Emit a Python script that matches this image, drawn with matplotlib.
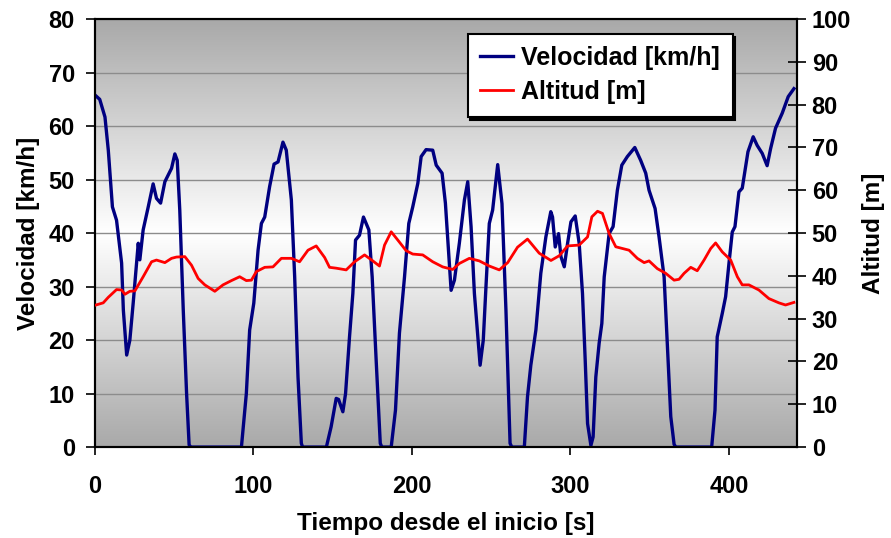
import numpy as np
import matplotlib
matplotlib.use("Agg")
import matplotlib.pyplot as plt
from matplotlib.colors import LinearSegmentedColormap
from matplotlib.font_manager import FontProperties

# Velocity trace (s, km/h)
tiempo_vel = [0, 3, 6.3, 8.4, 11, 13.6, 16.8, 17.9, 20, 22, 24.1, 26.2, 27.3, 28.3, 29.4,
              30.4, 33.6, 36.7, 38.8, 41.4, 44.1, 48.3, 50.4, 51.9, 53.5, 55.7, 57.8, 59.4,
              60.5, 92.4, 95.5, 97.6, 100.2, 102.9, 105, 107.1, 110.2, 113, 115.5, 118.6,
              120.7, 123.9, 126, 128.1, 130.2, 131, 146, 149, 152.2, 153.7, 156.4, 158.1,
              160.6, 162.7, 164.4, 166.9, 169.4, 172.8, 174.9, 177.4, 180, 181, 186.9,
              189.6, 192.1, 195.3, 198, 200.5, 203.7, 205.8, 208.9, 213.1, 215.3, 219,
              221.1, 223.6, 224.7, 226.8, 229.9, 233.1, 235.2, 237.3, 239.4, 243, 245,
              246.8, 248.8, 250.9, 254.1, 256.8, 259.3, 261.9, 263, 270.9, 272.9, 275,
              278.2, 281.3, 284.5, 287.6, 288.7, 290.4, 292.5, 294, 296.1, 298.2, 300.3,
              303, 305.5, 307.6, 309.3, 310.8, 312.9, 314.3, 316, 318.1, 319.8, 321.3,
              324.4, 326.9, 329.6, 332.4, 335.9, 340.6, 344.3, 347.5, 349.6, 353.4, 355.9,
              359.1, 361.1, 363.3, 365.4, 366.5, 389.1, 391.2, 392.6, 395.8, 397.9, 400,
              402.1, 403.8, 406.3, 408.4, 412, 415.3, 417.8, 421, 424.1, 426.3, 429.4,
              433.6, 437.4, 441]
velocidad = [65.8, 65, 61.7, 55.5, 44.9, 42.4, 34.4, 25.6, 17.2, 20, 26.9, 34.4, 38.1, 35, 38,
             40.6, 44.9, 49.2, 46.5, 45.6, 49.6, 52.1, 54.8, 53.6, 44.3, 25.6, 10, 0.4,
             0, 0, 10, 21.9, 26.9, 36.8, 41.8, 43, 48.7, 52.9, 53.3, 57,
             55.5, 46.2, 31.8, 13.1, 0.7, 0, 0, 3.8, 9.1, 8.9, 6.6, 10,
             20.6, 28.7, 38.7, 39.6, 43, 40.6, 31.8, 16.3, 0.7, 0, 0,
             6.9, 21.3, 31.8, 41.8, 44.9, 49.3, 54.3, 55.6, 55.5, 52.7, 51.2,
             45.6, 34.4, 29.3, 31.2, 38.1, 46.2, 49.6, 41.2, 28.7, 15.3, 20,
             30.6, 41.8, 44.3, 52.8, 45.5, 25.6, 0.7, 0, 0, 9.4, 15.3,
             21.9, 32.5, 39.3, 44, 43, 37.4, 39.9, 35.6, 33.7, 38.1, 42.1,
             43.2, 38.1, 28.7, 16.3, 4.4, 0.3, 1.9, 13.1, 19.4, 23.1, 31.8,
             39.9, 41.2, 48, 52.7, 54.3, 56, 53.6, 51.2, 48, 44.6, 39.3,
             31.8, 19.4, 5.7, 0.5, 0, 0, 6.9, 20.6, 25, 28.1, 34.3,
             40.2, 41.2, 47.7, 48.4, 55.2, 58, 56.4, 54.9, 52.6, 55.8, 59.6,
             62.4, 65.5, 67]

# Altitude trace (s, m)
tiempo_alt = [0.6, 5.2, 8.4, 13.6, 16.8, 18.9, 22, 25.2, 30.4, 35.7, 38.8, 44.1, 48.3, 51.4,
              56.7, 60.9, 65.1, 69.3, 75.6, 80.8, 86.1, 91.3, 95.5, 98.7, 101.8, 107.1,
              112.3, 117.6, 123.9, 129.1, 134.4, 139.6, 144.9, 148, 152.2, 158.5, 163.8,
              170.1, 175.3, 179.5, 182.7, 186.9, 191, 196.3, 200.5, 206.8, 213.1, 219.4,
              225.7, 229.9, 236.2, 242.5, 248.8, 255.1, 260.4, 266.6, 272.9, 280.3, 287.7,
              292.9, 298.2, 305.5, 310.8, 313.5, 317.1, 320.2, 324.4, 328.6, 337, 342.2,
              346.5, 349.6, 354.8, 360.1, 365.4, 368.5, 371.7, 375.9, 380, 384.3, 388.5,
              391.6, 395.8, 401.1, 405.3, 408.4, 412.6, 418.9, 425.2, 431.5, 435.7, 441]
altitud = [33.2, 33.7, 35, 36.8, 36.7, 35.7, 36.4, 36.5, 39.8, 43.3, 43.7, 43.1, 44.1, 44.4,
           44.5, 42.5, 39.4, 37.9, 36.4, 37.9, 38.9, 39.8, 38.9, 39, 41, 42,
           42.1, 44.1, 44.1, 43.3, 46, 47, 44.3, 42, 41.8, 41.4, 43.3,
           44.9, 43.5, 42.3, 47.2, 50.3, 48.4, 45.9, 45.1, 44.9, 43.3, 42.1,
           41.5, 42.9, 44.1, 43.5, 42.3, 41.4, 43.1, 46.7, 48.6, 45.3, 43.6,
           44.7, 47, 47.2, 49.1, 53.8, 55.1, 54.6, 49.9, 46.8, 46, 44.1,
           43.1, 43.5, 41.7, 40.6, 39, 39.2, 40.6, 42, 41.2, 43.7, 46.4,
           47.7, 45.6, 43.7, 39.8, 37.9, 37.9, 36.7, 34.7, 33.7, 33.2, 33.8]

T_MAX = 443
tick_font = FontProperties(family="Liberation Sans", weight="bold", size=17)
label_font = dict(family="Liberation Sans", weight="bold", size=17.5)

fig = plt.figure(figsize=(8.91, 5.38), dpi=100)
ax = fig.add_axes([0.1066, 0.169, 0.788, 0.7955])

# Excel-style grey-white-grey fill behind the plot area
grad = LinearSegmentedColormap.from_list("bg", ["#a9a9a9", "#ffffff", "#a9a9a9"])
ax.imshow(np.linspace(0, 1, 256).reshape(-1, 1), cmap=grad, aspect="auto",
          extent=[0, T_MAX, 0, 80], origin="lower", zorder=0, interpolation="bicubic")

ax.set_xlim(0, T_MAX)
ax.set_ylim(0, 80)
ax.set_yticks(range(0, 81, 10))
ax.set_xticks(range(0, 401, 100))
ax.grid(axis="y", color="#8c8c8c", linewidth=1.0, zorder=1)
ax.set_axisbelow(False)
line_v, = ax.plot(tiempo_vel, velocidad, color="#000080", linewidth=2.4, zorder=3,
                  label="Velocidad [km/h]")

ax2 = ax.twinx()
ax2.set_ylim(0, 100)
ax2.set_yticks(range(0, 101, 10))
line_a, = ax2.plot(tiempo_alt, altitud, color="#ff0000", linewidth=2.0, zorder=3,
                   label="Altitud [m]")

for spine in list(ax.spines.values()) + list(ax2.spines.values()):
    spine.set_linewidth(1.5)
    spine.set_color("black")

ax.tick_params(axis="y", direction="out", length=6.5, width=1.2, pad=8)
ax.tick_params(axis="x", direction="out", length=6, width=1.2, pad=14)
ax2.tick_params(axis="y", direction="inout", length=13, width=1.2, pad=4)
for lbl in ax.get_xticklabels() + ax.get_yticklabels() + ax2.get_yticklabels():
    lbl.set_fontproperties(tick_font)

ax.set_xlabel("Tiempo desde el inicio [s]", fontdict=label_font, labelpad=10)
ax.set_ylabel("Velocidad [km/h]", fontdict=label_font, labelpad=6)
ax2.set_ylabel("Altitud [m]", fontdict=label_font, labelpad=8)

leg = ax2.legend(handles=[line_v, line_a], loc="upper left",
                 bbox_to_anchor=(0.513, 0.995), frameon=True, fancybox=False,
                 shadow={"color": "black", "alpha": 1.0, "ox": 2, "oy": -2},
                 handlelength=1.3, handletextpad=0.35, borderpad=0.5, labelspacing=0.4,
                 prop=FontProperties(family="Liberation Sans", weight="bold", size=18))
leg.get_frame().set_edgecolor("black")
leg.get_frame().set_linewidth(1.5)
leg.get_frame().set_alpha(1.0)

fig.savefig("out.png", dpi=100)
